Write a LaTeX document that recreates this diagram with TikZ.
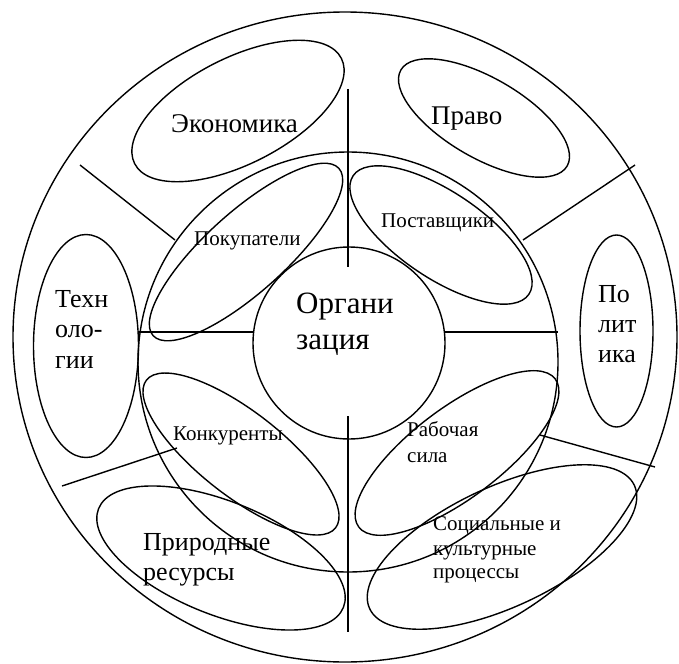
\documentclass[tikz,border=0pt]{standalone}
\usepackage{fontspec}
\setmainfont{Liberation Serif}
\begin{document}
\begin{tikzpicture}[x=1pt, y=-1pt,
  % ---- one pen for every ring, oval and divider ------------------------
  rim/.style={draw=black, line width=1.4pt},
  lab/.style={font=\fontsize{#1}{#1}\selectfont, anchor=base west, inner sep=0pt},
]
\useasboundingbox (0,0) rectangle (679,663);

% =====================================================================
%  RINGS
% =====================================================================
\draw[rim] (345,337) ellipse [x radius=332, y radius=325];
\draw[rim] (348,362) circle [radius=210];
\draw[rim] (349,343) circle [radius=96];

% =====================================================================
%  DIVIDERS
% =====================================================================
\draw[rim] (348,89)  -- (348,267);
\draw[rim] (348,416) -- (348,632);
\draw[rim] (138,332) -- (253,332);
\draw[rim] (445,332) -- (558,332);
\draw[rim] (80,165)  -- (175,240);
\draw[rim] (635,165) -- (523,240);
\draw[rim] (62,486)  -- (177,448);
\draw[rim] (540,435) -- (655,467);

% =====================================================================
%  OUTER RING : macro environment
% =====================================================================
\draw[rim, rotate around={27:(238,111)}]  (238,111) ellipse [x radius=116, y radius=53];
\draw[rim, rotate around={-30:(484,118)}] (484,118) ellipse [x radius=96,  y radius=40];
\draw[rim] (86,346)    ellipse [x radius=52.5, y radius=111.5];
\draw[rim] (616.5,331) ellipse [x radius=36.5, y radius=96];
\draw[rim, rotate around={-22:(221,558)}] (221,558) ellipse [x radius=132, y radius=56.5];
\draw[rim, rotate around={25:(502,547)}]  (502,547) ellipse [x radius=146, y radius=60];

% =====================================================================
%  INNER RING : micro environment
% =====================================================================
\draw[rim, rotate around={42:(246,252)}]  (246,252) ellipse [x radius=125, y radius=40];
\draw[rim, rotate around={-34:(441,235)}] (441,235) ellipse [x radius=106, y radius=43];
\draw[rim, rotate around={-38:(241,454)}] (241,454) ellipse [x radius=120, y radius=42];
\draw[rim, rotate around={37:(457,453)}]  (457,453) ellipse [x radius=123, y radius=45];

% =====================================================================
%  LABELS
% =====================================================================
\node[lab=31] (org1) at (296,313) {Органи};
\node[lab=31] (org2) at (296,349) {зация};

\node[lab=27] (econ) at (171,133) {Экономика};
\node[lab=27] (law)  at (431,125) {Право};

\node[lab=26] (tech1) at (55,307) {Техн};
\node[lab=26] (tech2) at (55,337) {оло-};
\node[lab=26] (tech3) at (55,368) {гии};

\node[lab=26] (pol1) at (598,302) {По};
\node[lab=26] (pol2) at (598,332) {лит};
\node[lab=26] (pol3) at (598,362) {ика};

\node[lab=26] (nat1) at (143,550) {Природные};
\node[lab=26] (nat2) at (143,580) {ресурсы};

\node[lab=21] (soc1) at (433,530) {Социальные и};
\node[lab=21] (soc2) at (433,555) {культурные};
\node[lab=21] (soc3) at (433,578) {процессы};

\node[lab=21] (buy)  at (194,245) {Покупатели};
\node[lab=21] (sup)  at (381,227) {Поставщики};
\node[lab=21] (comp) at (173,440) {Конкуренты};
\node[lab=21] (work1) at (407,436) {Рабочая};
\node[lab=21] (work2) at (407,462) {сила};

\end{tikzpicture}
\end{document}
